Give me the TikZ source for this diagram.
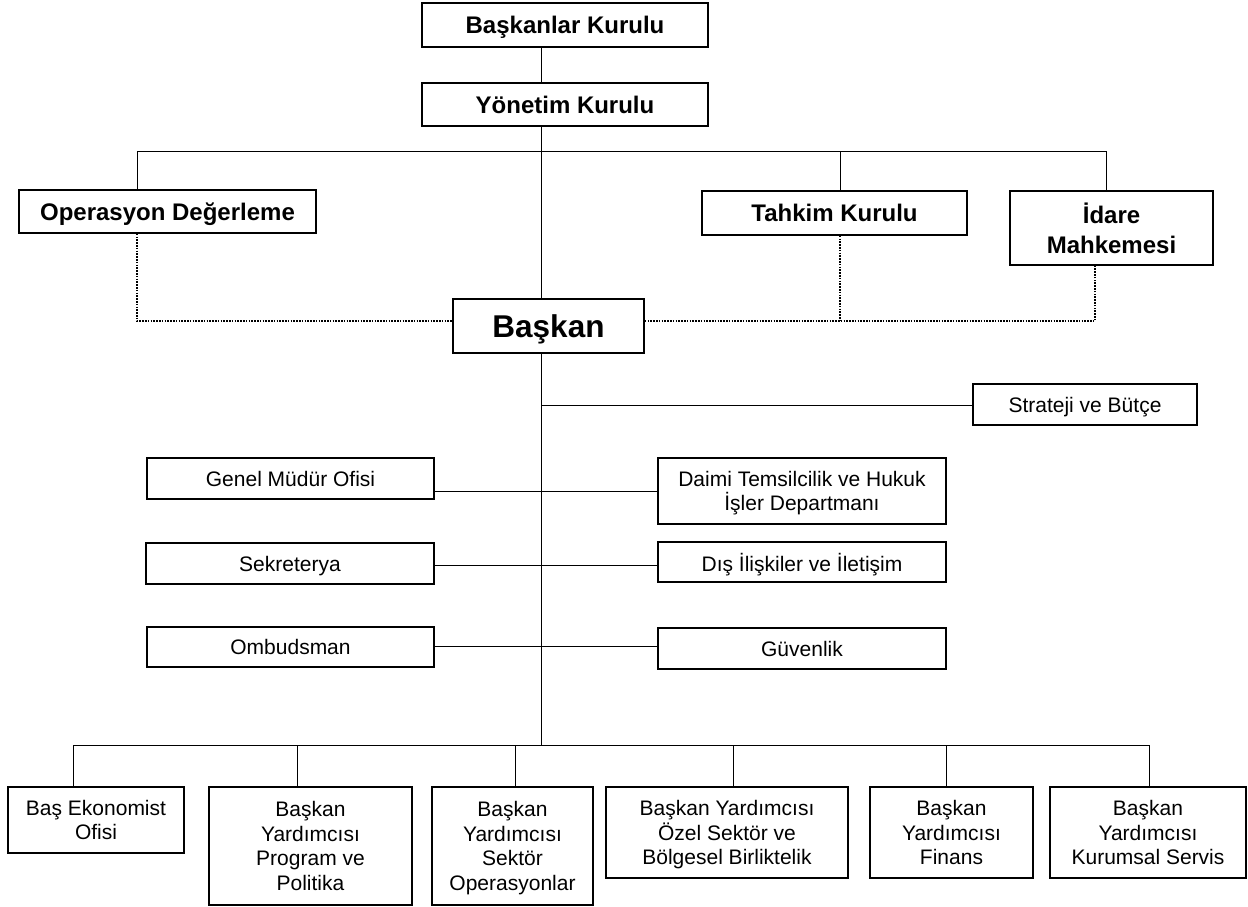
\documentclass[tikz,border=0pt]{standalone}
\usepackage{fontspec}
\setmainfont{Liberation Sans}
\begin{document}
\begin{tikzpicture}[x=1pt,y=-1pt,
  box/.style={draw=black,line width=1.6pt,fill=white,align=center,inner sep=2pt,text depth=0pt},
  head/.style={box,font=\bfseries\fontsize{24}{30}\selectfont},
  chief/.style={box,font=\bfseries\fontsize{31.5}{36}\selectfont},
  unit/.style={box,font=\fontsize{21}{24.5}\selectfont},
  link/.style={draw=black,line width=1pt},
  advise/.style={draw=black,line width=2pt,dash pattern=on 1.6pt off 1.2pt}]
\useasboundingbox (0,0) rectangle (1248,907);

% governing bodies
\node[head,minimum width=286pt,minimum height=44pt] (bk) at (565,25) {Başkanlar Kurulu};
\node[head,minimum width=286pt,minimum height=43pt] (yk) at (565,104.5) {Yönetim Kurulu};
\node[head,minimum width=297pt,minimum height=43pt] (od) at (167.5,211.5) {Operasyon Değerleme};
\node[head,minimum width=265pt,minimum height=44pt] (tk) at (834.5,213) {Tahkim Kurulu};
\node[head,minimum width=203pt,minimum height=74pt] (im) at (1111.5,228) {İdare\\Mahkemesi};
\node[chief,minimum width=191pt,minimum height=54pt] (bs) at (548.5,326) {Başkan};

% staff units
\node[unit,minimum width=224pt,minimum height=41pt] (sb) at (1085,404.5) {Strateji ve Bütçe};
\node[unit,minimum width=287pt,minimum height=41pt] (gm) at (290.5,478.5) {Genel Müdür Ofisi};
\node[unit,minimum width=288pt,minimum height=66pt] (dt) at (802,491) {Daimi Temsilcilik ve Hukuk\\İşler Departmanı};
\node[unit,minimum width=288pt,minimum height=41pt] (sk) at (290,563.5) {Sekreterya};
\node[unit,minimum width=288pt,minimum height=40pt] (di) at (802,562) {Dış İlişkiler ve İletişim};
\node[unit,minimum width=287pt,minimum height=40pt] (om) at (290.5,647) {Ombudsman};
\node[unit,minimum width=288pt,minimum height=41pt] (gv) at (802,648.5) {Güvenlik};

% vice presidencies
\node[unit,minimum width=176pt,minimum height=66pt] (be) at (96,820) {Baş Ekonomist\\Ofisi};
\node[unit,minimum width=203pt,minimum height=118pt] (v1) at (310.5,846) {Başkan\\Yardımcısı\\Program ve\\Politika};
\node[unit,minimum width=161pt,minimum height=118pt] (v2) at (512.5,846) {Başkan\\Yardımcısı\\Sektör\\Operasyonlar};
\node[unit,minimum width=242pt,minimum height=91pt] (v3) at (727,832.5) {Başkan Yardımcısı\\Özel Sektör ve\\Bölgesel Birliktelik};
\node[unit,minimum width=163pt,minimum height=91pt] (v4) at (951.5,832.5) {Başkan\\Yardımcısı\\Finans};
\node[unit,minimum width=196pt,minimum height=91pt] (v5) at (1148,832.5) {Başkan\\Yardımcısı\\Kurumsal Servis};

% reference points of the line network
\coordinate (tx) at (541,0);
\coordinate (topL) at (137,151);
\coordinate (topR) at (1106,151);
\coordinate (tkx) at (840,151);
\coordinate (dotY) at (0,321);
\coordinate (imd) at (1095,0);
\coordinate (sbY) at (0,405);
\coordinate (botL) at (73,745);
\coordinate (botR) at (1149,745);
\coordinate (bus) at (0,745);

% main trunk
\draw[link] (bk.south -| tx) -- (yk.north -| tx);
\draw[link] (yk.south -| tx) -- (bs.north -| tx);
\draw[link] (bs.south -| tx) -- (bus -| tx);
% upper bus
\draw[link] (topL) -- (topR);
\draw[link] (topL) -- (od.north -| topL);
\draw[link] (tkx) -- (tk.north -| tkx);
\draw[link] (topR) -- (im.north -| topR);
% advisory (dotted) links
\draw[advise] (od.south -| topL) -- (dotY -| topL) -- (bs.west |- dotY);
\draw[advise] (bs.east |- dotY) -- (dotY -| imd) -- (im.south -| imd);
\draw[advise] (tk.south -| tkx) -- (dotY -| tkx);
% staff links
\draw[link] (sbY -| tx) -- (sb.west |- sbY);
\draw[link] (gm.east |- 0,491) -- (dt.west |- 0,491);
\draw[link] (sk.east |- 0,565) -- (di.west |- 0,565);
\draw[link] (om.east |- 0,646) -- (gv.west |- 0,646);
% lower bus
\draw[link] (botL) -- (botR);
\draw[link] (botL) -- (be.north -| botL);
\draw[link] (bus -| 297,0) -- (v1.north -| 297,0);
\draw[link] (bus -| 515,0) -- (v2.north -| 515,0);
\draw[link] (bus -| 733,0) -- (v3.north -| 733,0);
\draw[link] (bus -| 946,0) -- (v4.north -| 946,0);
\draw[link] (botR) -- (v5.north -| botR);
\end{tikzpicture}
\end{document}
